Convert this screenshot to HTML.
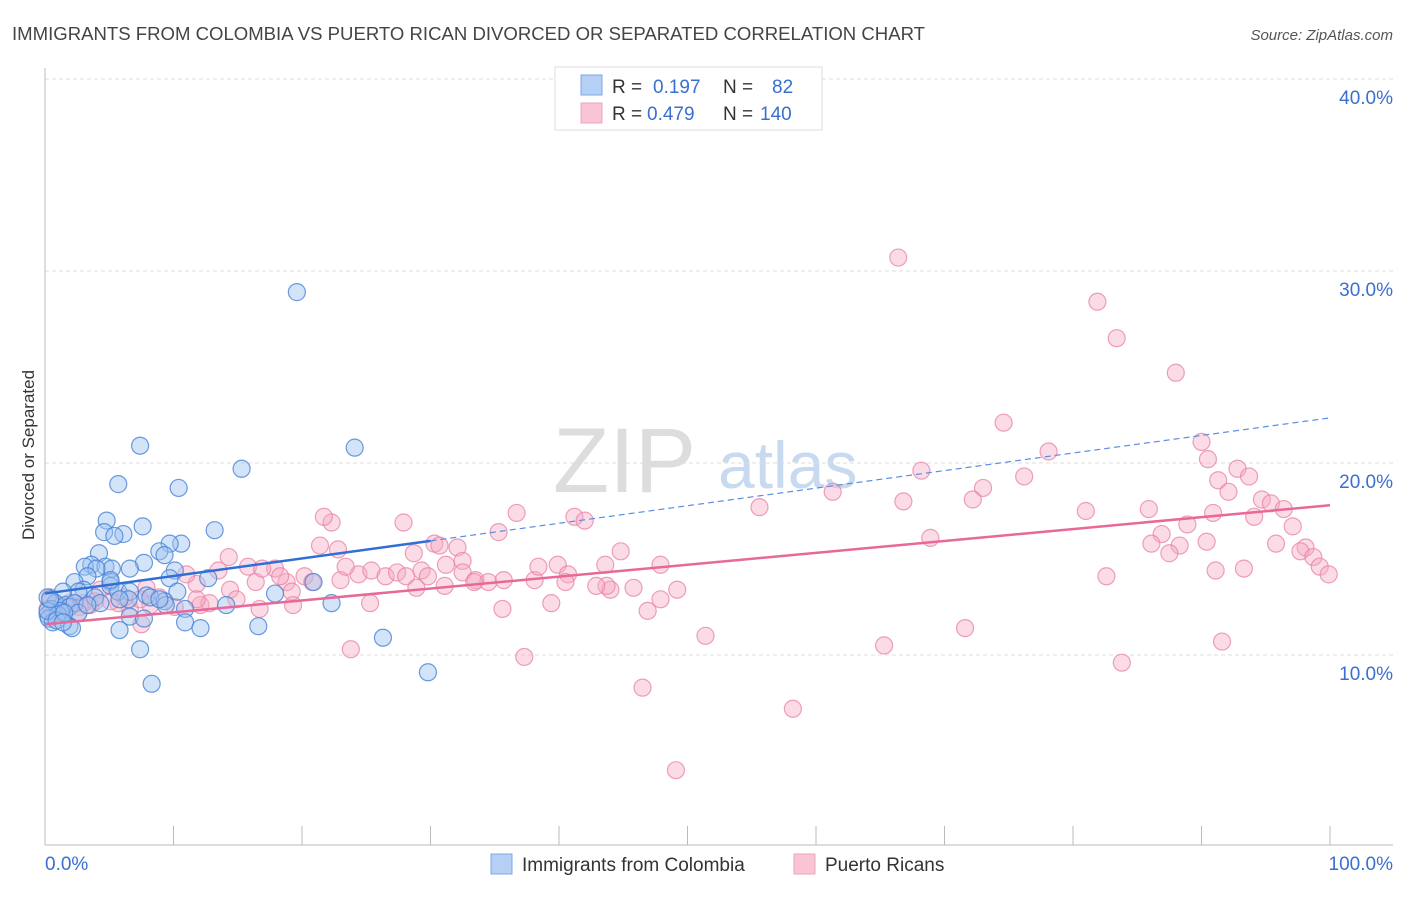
<!DOCTYPE html>
<html><head><meta charset="utf-8"><style>
body{margin:0;background:#fff;font-family:"Liberation Sans",sans-serif;}
svg text{font-family:"Liberation Sans",sans-serif;}
</style></head><body>
<svg id="chart" width="1406" height="892" xmlns="http://www.w3.org/2000/svg">
<text x="12" y="40" font-size="18" fill="#444" textLength="913" lengthAdjust="spacingAndGlyphs">IMMIGRANTS FROM COLOMBIA VS PUERTO RICAN DIVORCED OR SEPARATED CORRELATION CHART</text>
<text x="1393" y="40" font-size="15" fill="#555" font-style="italic" text-anchor="end">Source: ZipAtlas.com</text>
<g>
<text x="553" y="492" font-size="92" fill="#ddd" font-family="Liberation Serif, serif">ZIP</text>
<text x="718" y="488" font-size="66" fill="#c8daf0">atlas</text>
</g>
<g id="grid"></g>
<g id="axes"></g>
<g id="pinkPts"></g>
<g id="bluePts"></g>
<g id="lines"></g>
<text transform="translate(34,455) rotate(-90)" font-size="17" fill="#333" text-anchor="middle">Divorced or Separated</text>
<g>
<rect x="555" y="67" width="267" height="63" fill="#fff" stroke="#ddd"/>
<rect x="581" y="75" width="21" height="20" fill="#b5d0f4" stroke="#7aa7e4"/>
<rect x="581" y="103" width="21" height="20" fill="#f9c5d5" stroke="#eea4bb"/>
<text x="612" y="93" font-size="19" fill="#333">R =</text><text x="653" y="93" font-size="19" fill="#3a6fd0">0.197</text>
<text x="723" y="93" font-size="19" fill="#333">N =</text><text x="772" y="93" font-size="19" fill="#3a6fd0">82</text>
<text x="612" y="120" font-size="19" fill="#333">R =</text><text x="647" y="120" font-size="19" fill="#3a6fd0">0.479</text>
<text x="723" y="120" font-size="19" fill="#333">N =</text><text x="760" y="120" font-size="19" fill="#3a6fd0">140</text>
</g>
<g>
<rect x="491" y="854" width="21" height="20" fill="#b5d0f4" stroke="#7aa7e4"/>
<text x="522" y="871" font-size="19" fill="#333">Immigrants from Colombia</text>
<rect x="794" y="854" width="21" height="20" fill="#f9c5d5" stroke="#eea4bb"/>
<text x="825" y="871" font-size="19" fill="#333">Puerto Ricans</text>
</g>
</svg>
<script>
const yTicks=[10,20,30,40];
const xTickCount=10;
const blueX=[19.6,7.4,24.1,15.3,5.7,10.4,4.8,13.2,7.6,6.1,4.6,5.4,10.6,9.7,4.2,8.9,9.3,7.7,3.6,4.7,6.6,3.1,5.2,4.0,10.1,3.3,2.3,5.1,5.1,9.7,12.7,5.7,6.6,7.9,8.2,10.3,3.0,2.6,1.4,3.9,6.5,5.8,9.3,9.4,0.2,0.8,1.6,1.9,2.3,0.5,1.2,0.2,1.0,2.6,0.3,0.6,1.9,2.1,6.6,7.7,10.9,14.1,17.9,20.9,22.3,10.9,12.1,5.8,16.6,26.3,7.4,8.3,29.8,0.2,0.9,1.5,4.3,3.3,1.4,0.4,5.1,8.9];
const blueY=[28.9,20.9,20.8,19.7,18.9,18.7,17.0,16.5,16.7,16.3,16.4,16.2,15.8,15.8,15.3,15.4,15.2,14.8,14.7,14.6,14.5,14.6,14.5,14.5,14.4,14.1,13.8,13.8,13.6,14.0,14.0,13.3,13.3,13.1,13.0,13.3,13.4,13.3,13.3,13.0,12.9,12.9,12.8,12.6,13.0,12.7,12.6,12.5,12.7,12.4,12.3,12.1,12.1,12.2,11.9,11.7,11.5,11.4,12.0,11.9,12.4,12.6,13.2,13.8,12.7,11.7,11.4,11.3,11.5,10.9,10.3,8.5,9.1,12.3,11.8,12.2,12.7,12.6,11.7,12.9,13.9,12.9];
const pinkX=[66.4,81.9,83.4,88.0,74.6,90.0,78.1,68.2,92.8,90.5,91.3,76.2,92.1,93.7,73.0,61.3,66.8,72.2,94.7,95.4,81.0,85.9,90.9,96.4,94.1,55.6,36.7,41.2,42.0,27.9,88.9,97.1,86.9,68.9,86.1,95.8,90.4,88.3,98.1,97.7,87.5,98.7,99.2,99.9,91.1,82.6,93.3,91.6,83.8,71.6,65.3,58.2,49.1,46.5,51.4,37.3,23.8,30.3,30.7,32.1,35.3,32.5,28.7,22.8,21.4,22.3,21.7,14.3,15.8,13.5,16.4,17.9,18.8,19.2,18.3,20.2,20.8,23.0,24.4,23.4,25.4,26.5,27.4,28.1,29.3,29.8,31.2,32.5,33.5,34.5,35.7,38.1,38.4,39.9,40.7,40.5,43.6,44.0,44.8,45.8,47.9,49.2,47.9,46.9,43.7,14.4,14.9,12.1,12.8,11.8,11.0,8.9,8.2,7.5,6.6,5.7,3.9,3.5,2.7,1.9,1.6,0.9,0.4,0.2,0.9,1.5,4.3,6.2,10.1,16.7,19.3,25.3,28.9,35.6,39.4,33.4,42.9,31.1,16.9,11.8,7.9,7.4,5.1,3.0,2.6,0.7];
const pinkY=[30.7,28.4,26.5,24.7,22.1,21.1,20.6,19.6,19.7,20.2,19.1,19.3,18.5,19.3,18.7,18.5,18.0,18.1,18.1,17.9,17.5,17.6,17.4,17.6,17.2,17.7,17.4,17.2,17.0,16.9,16.8,16.7,16.3,16.1,15.8,15.8,15.9,15.7,15.6,15.4,15.3,15.1,14.6,14.2,14.4,14.1,14.5,10.7,9.6,11.4,10.5,7.2,4.0,8.3,11.0,9.9,10.3,15.8,15.7,15.6,16.4,14.9,15.3,15.5,15.7,16.9,17.2,15.1,14.6,14.4,13.8,14.5,13.8,13.3,14.1,14.1,13.8,13.9,14.2,14.6,14.4,14.1,14.3,14.1,14.4,14.1,14.7,14.3,13.9,13.8,13.9,13.9,14.6,14.7,14.2,13.8,14.7,13.4,15.4,13.5,14.7,13.4,12.9,12.3,13.6,13.4,12.9,12.6,12.7,13.7,14.2,13.0,12.6,11.6,12.4,12.7,12.8,12.6,12.5,12.7,12.5,12.6,13.0,12.4,12.1,12.3,13.4,13.0,12.5,12.4,12.6,12.7,13.5,12.4,12.7,13.8,13.6,13.6,14.5,12.9,13.5,12.9,12.8,12.7,12.2,12.2];
const blueTrend=[13.2,0.0915];   // intercept, slope
const pinkTrend=[11.6,0.062];
const blueSolidEnd=30;

const X0=45,X1=1330,YB=847,PXPER=19.2;
const sx=v=>X0+(X1-X0)*v/100;
const sy=v=>YB-v*PXPER;
const NS="http://www.w3.org/2000/svg";
function mk(tag,parent,attrs){const e=document.createElementNS(NS,tag);for(const k in attrs)e.setAttribute(k,attrs[k]);parent.appendChild(e);return e;}
const grid=document.getElementById('grid'),axes=document.getElementById('axes');
yTicks.forEach(t=>{
  const l=mk('line',grid,{x1:45,x2:1393,y1:sy(t),y2:sy(t),stroke:'#ddd','stroke-dasharray':'4,3'});
  
  
  const tx=mk('text',axes,{x:1393,y:sy(t)+25,'font-size':19,fill:'#3a6fd0','text-anchor':'end'});
  tx.textContent=t.toFixed(1)+'%';
  
  
});
mk('line',axes,{x1:45,x2:45,y1:68,y2:845,stroke:'#bbb'});
mk('line',axes,{x1:45,x2:1393,y1:845,y2:845,stroke:'#bbb'});
for(let i=0;i<=xTickCount;i++){
  const t=mk('line',axes,{x1:sx(i*10),x2:sx(i*10),y1:826,y2:845,stroke:'#bbb'});
  
  
}
const xl=mk('text',axes,{x:45,y:870,'font-size':19,fill:'#3a6fd0'});xl.textContent='0.0%';


const xr=mk('text',axes,{x:1393,y:870,'font-size':19,fill:'#3a6fd0','text-anchor':'end'});xr.textContent='100.0%';



function pts(g,xs,ys,fill,stroke,name){
  xs.forEach((x,i)=>{
    const c=mk('circle',g,{cx:sx(x),cy:sy(ys[i]),r:8.5,fill:fill,stroke:stroke,'stroke-width':1.2});
    
    
  });
}
pts(document.getElementById('pinkPts'),pinkX,pinkY,'rgba(246,170,196,0.42)','rgba(232,130,163,0.75)','puerto-rican-point');
pts(document.getElementById('bluePts'),blueX,blueY,'rgba(160,196,240,0.45)','rgba(70,130,215,0.8)','colombia-point');

const L=document.getElementById('lines');
const f=(tr,x)=>tr[0]+tr[1]*x;
const b1=mk('line',L,{x1:sx(0),y1:sy(f(blueTrend,0)),x2:sx(blueSolidEnd),y2:sy(f(blueTrend,blueSolidEnd)),stroke:'#2f6fd6','stroke-width':2.5});


const b2=mk('line',L,{x1:sx(blueSolidEnd),y1:sy(f(blueTrend,blueSolidEnd)),x2:sx(100),y2:sy(f(blueTrend,100)),stroke:'#5a8ee0','stroke-width':1.2,'stroke-dasharray':'6,4'});


const p1=mk('line',L,{x1:sx(0),y1:sy(f(pinkTrend,0)),x2:sx(100),y2:sy(f(pinkTrend,100)),stroke:'#e8689a','stroke-width':2.5});


</script>
</body></html>
